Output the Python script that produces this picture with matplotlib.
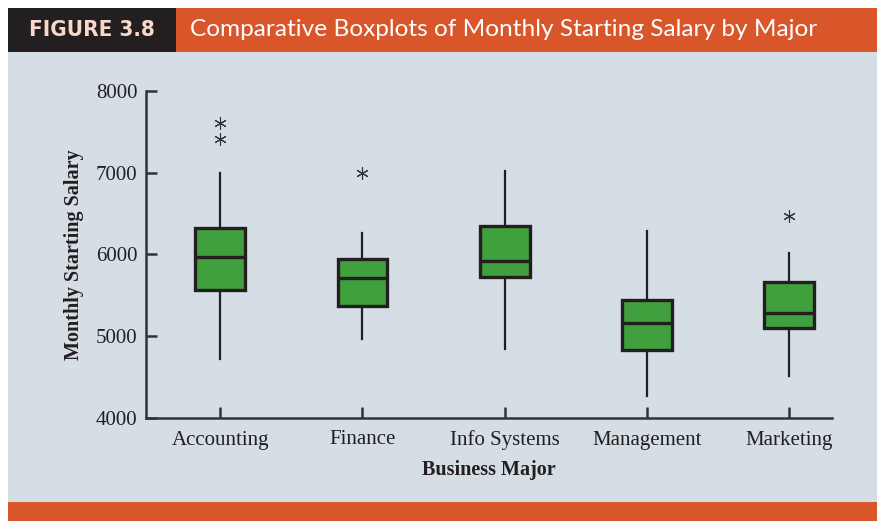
import matplotlib
matplotlib.use("Agg")
import matplotlib.pyplot as plt
from matplotlib.patches import Rectangle

# boxplot summaries
majors = ["Accounting", "Finance", "Info Systems", "Management", "Marketing"]
whisker_low = [4716, 4960, 4846, 4268, 4512]
q1 = [5561, 5374, 5724, 4826, 5098]
median = [5964, 5712, 5919, 5163, 5285]
q3 = [6322, 5944, 6341, 5439, 5659]
whisker_high = [7000, 6261, 7024, 6281, 6017]
outliers = [[7407, 7602], [7000], [], [], [6472]]
yticks = [4000, 5000, 6000, 7000, 8000]

W, H = 877, 521
fig = plt.figure(figsize=(W / 100, H / 100), dpi=100)
fig.patch.set_facecolor("white")

bg = "#D5DEE4"
orange = "#D9552A"
dark = "#231F20"
green = "#40A03E"


def px_rect(x0, y0, x1, y1, color):
    # rectangle given in pixel coords from top-left
    fig.patches.append(Rectangle((x0 / W, 1 - y1 / H), (x1 - x0) / W, (y1 - y0) / H,
                                 transform=fig.transFigure, facecolor=color,
                                 edgecolor="none", zorder=-5))


px_rect(8, 52, W, 502, bg)
px_rect(8, 8, 176, 52, dark)
px_rect(176, 8, W, 52, orange)
px_rect(8, 502, W, H, orange)

fig.text(92 / W, 1 - 30 / H, "FIGURE 3.8", color="#F7D9CC", fontsize=16,
         fontweight="bold", family="DejaVu Sans", fontstretch="condensed",
         ha="center", va="center")
fig.text(190 / W, 1 - 30 / H, "Comparative Boxplots of Monthly Starting Salary by Major",
         color="white", fontsize=17.6, family="Lato", ha="left", va="center")

ax = fig.add_axes([146 / W, 1 - 418 / H, (832 - 146) / W, (418 - 90.7) / H])
ax.set_facecolor("none")
ax.set_zorder(2)

stats = []
for i, name in enumerate(majors):
    stats.append({
        "label": name, "whislo": whisker_low[i], "q1": q1[i], "med": median[i],
        "q3": q3[i], "whishi": whisker_high[i], "fliers": outliers[i],
    })

ax.bxp(stats, positions=range(1, len(majors) + 1), widths=0.35, patch_artist=True,
       showcaps=False,
       boxprops=dict(facecolor=green, edgecolor=dark, linewidth=2.4),
       medianprops=dict(color=dark, linewidth=2.4),
       whiskerprops=dict(color=dark, linewidth=1.6),
       flierprops=dict(marker=(6, 2, 0), markersize=9, markeredgewidth=0.8,
                       markeredgecolor="#333333", markerfacecolor="none"))

ax.set_ylim(4000, 8000)
ax.set_xlim(0.479, 5.30)
ax.set_yticks(yticks)
ax.set_yticklabels([str(v) for v in yticks])
ax.set_xticks(range(1, len(majors) + 1))
ax.set_xticklabels(majors)

ax.spines["top"].set_visible(False)
ax.spines["right"].set_visible(False)
for s in ("left", "bottom"):
    ax.spines[s].set_color("#333333")
    ax.spines[s].set_linewidth(1.8)
ax.tick_params(axis="both", direction="in", length=8, width=1.8, color="#333333",
               labelsize=15, labelcolor="#231F20")
ax.tick_params(axis="y", pad=6)
ax.tick_params(axis="x", pad=9)
for lab in ax.get_xticklabels() + ax.get_yticklabels():
    lab.set_family("Liberation Serif")

ax.set_ylabel("Monthly Starting Salary", family="Liberation Serif", fontweight="bold",
              fontsize=14.5, color=dark, labelpad=9)
ax.set_xlabel("Business Major", family="Liberation Serif", fontweight="bold",
              fontsize=14.5, color=dark, labelpad=7)

fig.savefig("out.png", dpi=100, facecolor=fig.get_facecolor())
